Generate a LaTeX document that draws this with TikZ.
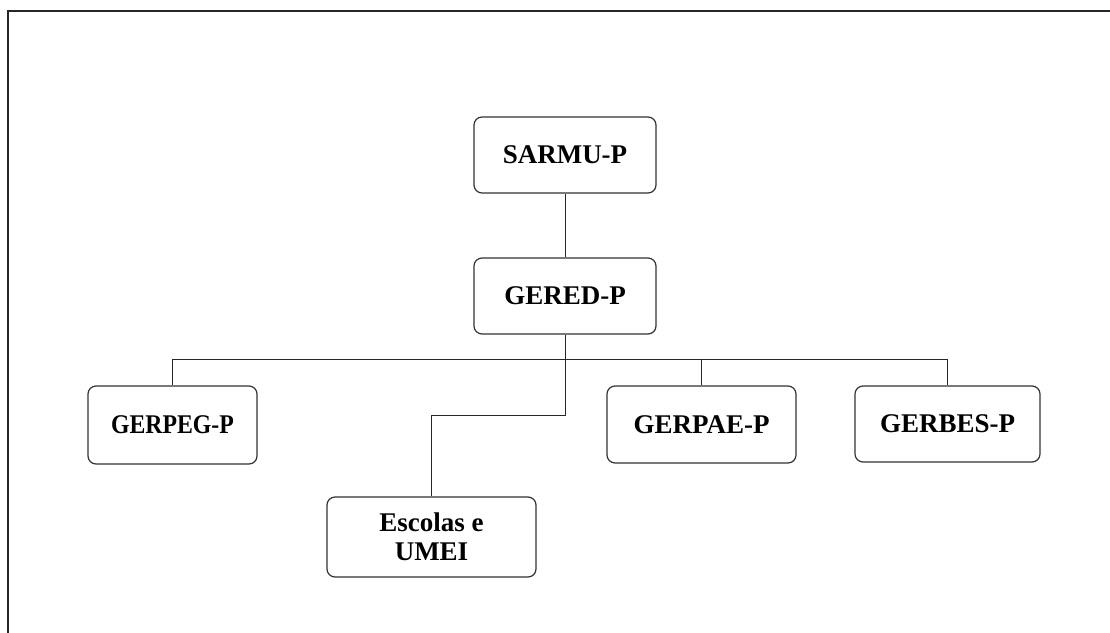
\documentclass[tikz,border=0pt]{standalone}
\usepackage{graphicx}
\usepackage{fontspec}
\setmainfont{Liberation Serif}
\begin{document}
\begin{tikzpicture}[x=1pt,y=-1pt,
  orgbox/.style={draw=black!80,line width=1.2pt,rounded corners=8pt,
    font=\fontsize{27}{29}\selectfont\bfseries,align=center,inner sep=0pt},
  conn/.style={draw=black!85,line width=0.9pt}]
\useasboundingbox (0,0) rectangle (1110,632);
\draw[line width=2pt,black!85] (8,640) -- (8,11) -- (1120,11);
\node[orgbox,minimum width=182pt,minimum height=76pt] (sarmu) at (565,155) {SARMU-P};
\node[orgbox,minimum width=182pt,minimum height=76pt] (gered) at (565,296) {GERED-P};
\node[orgbox,minimum width=169pt,minimum height=78pt] (gerpeg) at (172.5,425) {\scalebox{0.88}[1]{GERPEG-P}};
\node[orgbox,minimum width=189pt,minimum height=77pt] (gerpae) at (701.5,424.5) {GERPAE-P};
\node[orgbox,minimum width=185pt,minimum height=76pt] (gerbes) at (947.5,424) {GERBES-P};
\node[orgbox,minimum width=209pt,minimum height=80pt] (esc) at (431.5,537) {Escolas e\\UMEI};
\coordinate (bus) at (0,359);
\coordinate (jn) at (0,415);
\draw[conn] (sarmu.south) -- (gered.north);
\draw[conn] (gerpeg.north) -- (gerpeg.north |- bus) -- (gerbes.north |- bus) -- (gerbes.north);
\draw[conn] (gerpae.north) -- (gerpae.north |- bus);
\draw[conn] (gered.south) -- (gered.south |- jn) -| (esc.north);
\end{tikzpicture}
\end{document}
